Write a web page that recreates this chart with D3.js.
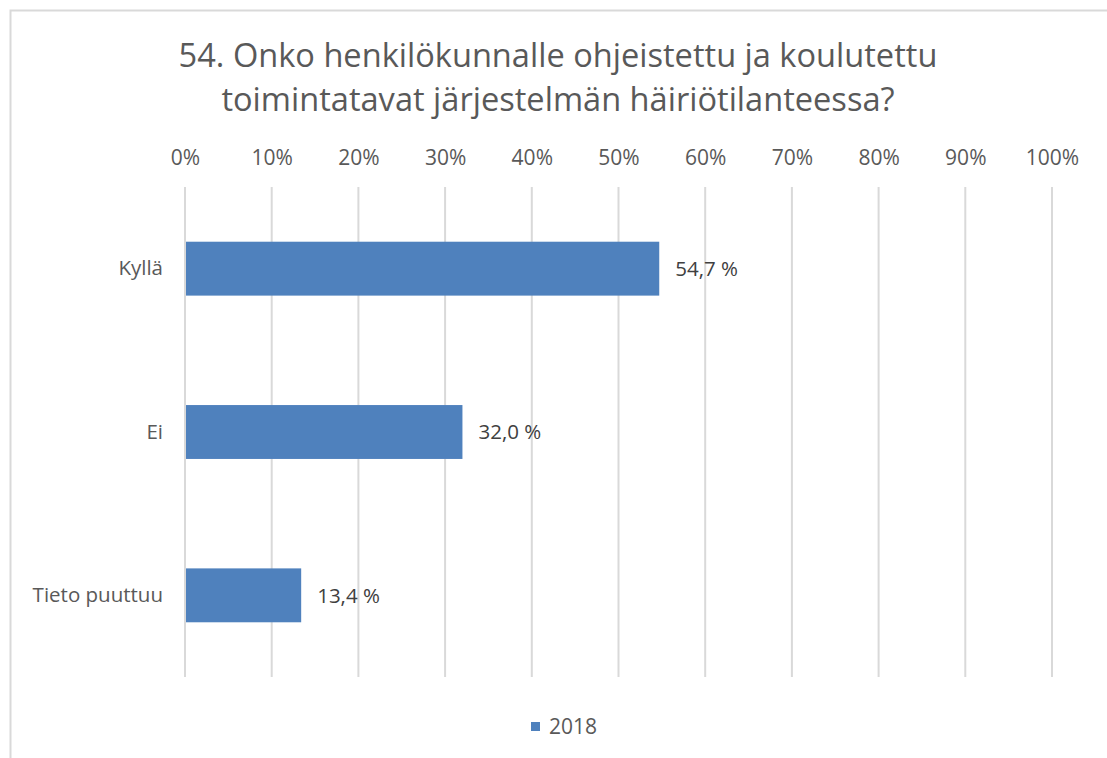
<!DOCTYPE html>
<html>
<head>
<meta charset="utf-8">
<script src="https://cdn.jsdelivr.net/npm/d3@7"></script>
<style>
  body { margin: 0; background: #fff; }
  text { font-family: "Open Sans", sans-serif; }
</style>
</head>
<body>
<div id="chart"></div>
<script>
// data
const titleLines = ["54. Onko henkilökunnalle ohjeistettu ja koulutettu",
                    "toimintatavat järjestelmän häiriötilanteessa?"];
const categories = ["Kyllä", "Ei", "Tieto puuttuu"];
const values2018 = [54.7, 32.0, 13.4];
const seriesName = "2018";
const tickValues = [0, 10, 20, 30, 40, 50, 60, 70, 80, 90, 100];

let width = 1107, height = 758;
let margin = {top: 187, right: 55, bottom: 81, left: 185};

let svg = d3.select("#chart").append("svg")
            .attr("width", width)
            .attr("height", height);

// chart border (only left/top visible in the crop)
svg.append("rect")
   .attr("x", 10.5).attr("y", 10.5)
   .attr("width", width + 20).attr("height", height + 20)
   .attr("fill", "white")
   .attr("stroke", "#d9d9d9")
   .attr("stroke-width", 2);

let x = d3.scaleLinear().domain([0, 100]).range([margin.left, width - margin.right]);
let y = d3.scaleBand().domain(categories)
          .range([margin.top, height - margin.bottom])
          .paddingInner(0.67).paddingOuter(0.335);

// title
svg.append("text")
   .attr("text-anchor", "middle")
   .attr("fill", "#595959")
   .style("font-size", "32.6px")
   .selectAll("tspan")
   .data(titleLines)
   .join("tspan")
   .attr("x", 558)
   .attr("y", (d, i) => 67 + i * 44)
   .text(d => d);

// gridlines
svg.append("g")
   .selectAll("line")
   .data(tickValues)
   .join("line")
   .attr("x1", d => x(d)).attr("x2", d => x(d))
   .attr("y1", margin.top).attr("y2", height - margin.bottom)
   .attr("stroke", "#d9d9d9")
   .attr("stroke-width", 2);

// top axis labels
let xAxis = svg.append("g")
   .attr("transform", "translate(0," + (margin.top - 22) + ")")
   .call(d3.axisTop(x).tickValues(tickValues).tickFormat(d => d + "%").tickSize(0).tickPadding(0));
xAxis.select(".domain").remove();
xAxis.selectAll("text")
     .attr("fill", "#595959")
     .style("font-size", "21px")
     .style("font-family", "Open Sans, sans-serif");

// category labels
let yAxis = svg.append("g")
   .attr("transform", "translate(" + (margin.left - 22) + ",0)")
   .call(d3.axisLeft(y).tickSize(0).tickPadding(0));
yAxis.select(".domain").remove();
yAxis.selectAll("text")
     .attr("fill", "#595959")
     .style("font-size", "20.5px")
     .style("font-family", "Open Sans, sans-serif");

// bars
svg.append("g")
   .selectAll("rect")
   .data(values2018)
   .join("rect")
   .attr("x", x(0) + 1)
   .attr("y", (d, i) => y(categories[i]))
   .attr("width", d => x(d) - x(0) - 1)
   .attr("height", y.bandwidth())
   .attr("fill", "#4f81bd");

// value labels
svg.append("g")
   .selectAll("text")
   .data(values2018)
   .join("text")
   .attr("x", d => x(d) + 16)
   .attr("y", (d, i) => y(categories[i]) + y.bandwidth() / 2)
   .attr("dy", "0.35em")
   .attr("fill", "#404040")
   .style("font-size", "20.5px")
   .text(d => d.toFixed(1).replace(".", ",") + " %");

// legend
let legend = svg.append("g").attr("transform", "translate(531,722)");
legend.append("rect")
      .attr("width", 9).attr("height", 9)
      .attr("fill", "#4f81bd");
legend.append("text")
      .attr("x", 18).attr("y", 5)
      .attr("dy", "0.35em")
      .attr("fill", "#595959")
      .style("font-size", "21px")
      .text(seriesName);
</script>
</body>
</html>
